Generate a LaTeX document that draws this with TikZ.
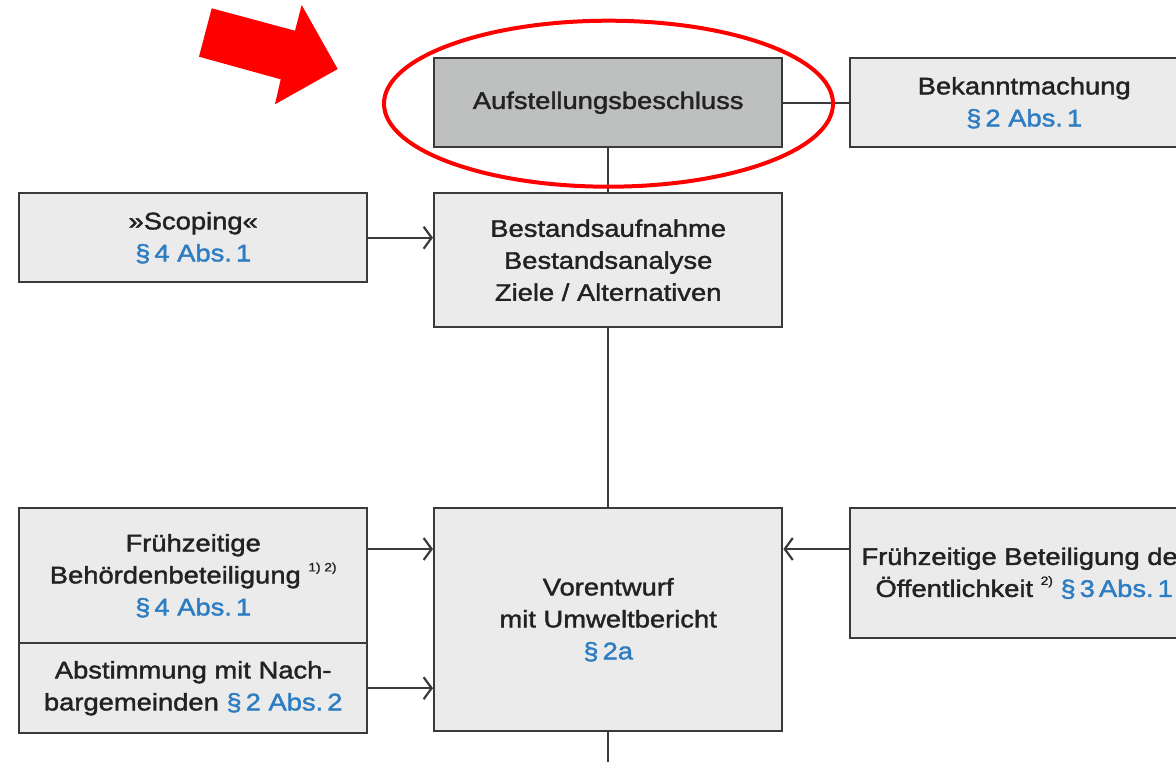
\documentclass[tikz,border=0pt]{standalone}
\usepackage{fontspec}
\setmainfont[FakeStretch=1.14,FakeBold=1.6]{Liberation Sans}
\usetikzlibrary{arrows.meta}
\definecolor{boxgray}{RGB}{235,235,235}
\definecolor{headgray}{RGB}{190,192,191}
\definecolor{linegray}{RGB}{58,58,58}
\definecolor{textgray}{RGB}{34,34,34}
\definecolor{parblue}{RGB}{45,125,195}
\newcommand{\para}[1]{\textcolor{parblue}{#1}}
\newcommand{\fnote}[1]{\raisebox{0.5em}{\fontsize{12}{12}\selectfont #1}}
\begin{document}
\begin{tikzpicture}[x=1pt,y=-1pt,
  stepbox/.style={draw=linegray,line width=2.4pt,fill=boxgray,minimum width=348pt,text=textgray,
    inner sep=0pt,align=center,anchor=north west,font=\fontsize{24}{32}\selectfont},
  link/.style={linegray,line width=2.2pt},
  arr/.style={link,-{Straight Barb[length=8pt,width=22pt]}}]
\useasboundingbox (0,0) rectangle (1176,761);
\clip (0,0) rectangle (1176,761);
% boxes
\node[stepbox,fill=headgray,minimum height=89pt] (beschluss) at (433,57) {Aufstellungsbeschluss};
\node[stepbox,minimum height=89pt] (bekannt) at (849,57) {Bekanntmachung\\\para{§\,2 Abs.\,1}};
\node[stepbox,minimum height=89pt] (scoping) at (18,192) {»Scoping«\\\para{§\,4 Abs.\,1}};
\node[stepbox,minimum height=134pt] (bestand) at (433,192) {Bestandsaufnahme\\Bestandsanalyse\\Ziele / Alternativen};
\node[stepbox,minimum height=135pt] (behoerden) at (18,507) {Frühzeitige\\Behördenbeteiligung \fnote{1) 2)}\\\para{§\,4 Abs.\,1}};
\node[stepbox,minimum height=90pt] (abstimmung) at (18,642) {Abstimmung mit Nach-\\bargemeinden \para{§\,2 Abs.\,2}};
\node[stepbox,minimum height=223pt] (vorentwurf) at (433,507) {Vorentwurf\\mit Umweltbericht\\\para{§\,2a}};
\node[stepbox,minimum height=130pt] (oeffentlichkeit) at (849,507) {Frühzeitige Beteiligung der\\Öffentlichkeit \fnote{2)} \para{§\,3\,Abs.\,1}};
% connectors
\draw[link] (beschluss) -- (bekannt);
\draw[link] (beschluss) -- (bestand);
\draw[link] (bestand) -- (vorentwurf);
\draw[link] (vorentwurf.south) -- ++(0,40);
\draw[arr] (scoping.east) -- (scoping.east -| bestand.west);
\draw[arr] ([yshift=-42pt]behoerden.north east) -- ([yshift=-42pt]vorentwurf.north west);
\draw[arr] (abstimmung.east) -- (abstimmung.east -| vorentwurf.west);
\draw[arr] ([yshift=-42pt]oeffentlichkeit.north west) -- ([yshift=-42pt]vorentwurf.north east);
% highlight
\fill[red] (211.7,8.3) -- (295,30.7) -- (301.7,5) -- (337.7,69) -- (275,104.3) -- (280.7,79.3) -- (199,56.7) -- cycle;
\draw[red,line width=4pt] (608.5,103.7) ellipse [x radius=224.5,y radius=83];
\end{tikzpicture}
\end{document}
